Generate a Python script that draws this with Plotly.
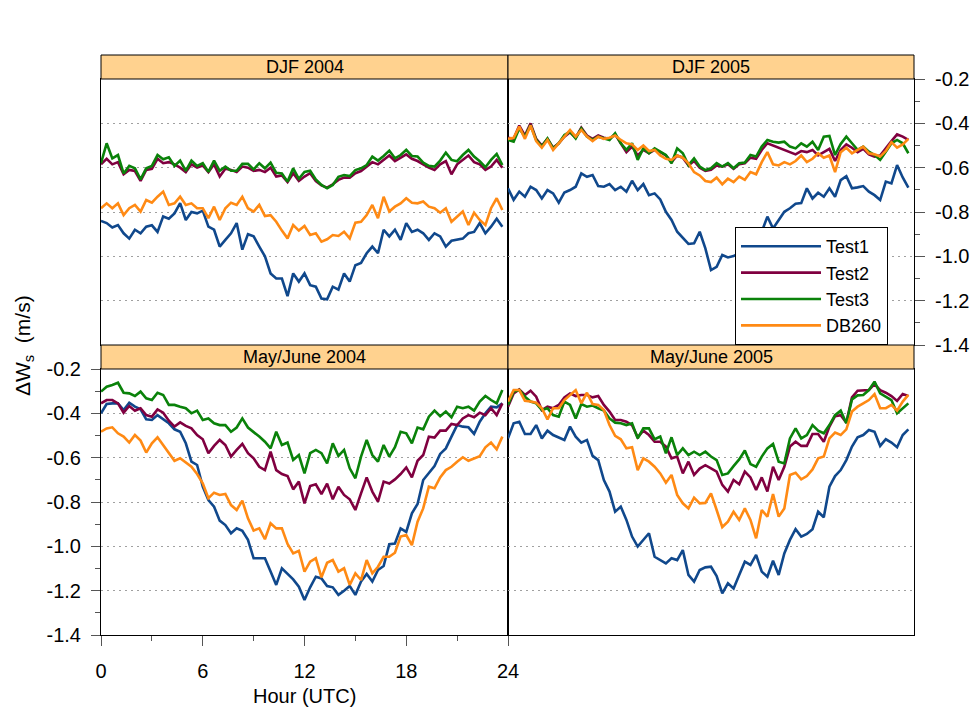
import plotly.graph_objects as go

# ---------------------------------------------------------------- data
# 20-minute time grid over the day (hours UTC)
MINUTES = list(range(0, 1440, 20))
HOURS = [m / 60 for m in MINUTES]

SERIES_NAMES = ["Test1", "Test2", "Test3", "DB260"]
SERIES_COLORS = ["#10488C", "#800040", "#0A820A", "#FF8A14"]
PANEL_TITLES = ["DJF 2004", "DJF 2005", "May/June 2004", "May/June 2005"]

X_TICKS = [0, 6, 12, 18, 24]
X_MINOR = [3, 9, 15, 21]
Y_TICKS = [-1.4, -1.2, -1.0, -0.8, -0.6, -0.4, -0.2]
Y_MINOR = [-1.3, -1.1, -0.9, -0.7, -0.5, -0.3]

# DJF 2004
DJF04_TEST1 = [-0.840, -0.850, -0.870, -0.859, -0.896, -0.920, -0.880, -0.896, -0.866, -0.860,
               -0.890, -0.820, -0.830, -0.806, -0.760, -0.836, -0.800, -0.806, -0.794, -0.866,
               -0.880, -0.956, -0.926, -0.896, -0.850, -0.970, -0.900, -0.910, -0.956, -1.000,
               -1.077, -1.100, -1.100, -1.180, -1.077, -1.114, -1.077, -1.130, -1.137, -1.190,
               -1.194, -1.137, -1.150, -1.077, -1.114, -1.040, -1.030, -0.986, -0.956, -0.986,
               -0.880, -0.910, -0.880, -0.926, -0.850, -0.890, -0.880, -0.896, -0.926, -0.896,
               -0.910, -0.956, -0.930, -0.926, -0.920, -0.896, -0.890, -0.850, -0.896, -0.866,
               -0.830, -0.866]
DJF04_TEST2 = [-0.585, -0.560, -0.585, -0.575, -0.630, -0.610, -0.615, -0.660, -0.610, -0.605,
               -0.560, -0.580, -0.575, -0.585, -0.600, -0.620, -0.585, -0.600, -0.590, -0.620,
               -0.585, -0.640, -0.605, -0.610, -0.620, -0.595, -0.600, -0.615, -0.610, -0.620,
               -0.600, -0.640, -0.635, -0.665, -0.625, -0.660, -0.640, -0.625, -0.660, -0.680,
               -0.690, -0.675, -0.655, -0.645, -0.645, -0.625, -0.615, -0.595, -0.575, -0.585,
               -0.565, -0.545, -0.570, -0.555, -0.540, -0.560, -0.570, -0.585, -0.600, -0.610,
               -0.585, -0.570, -0.630, -0.585, -0.565, -0.545, -0.575, -0.585, -0.610, -0.595,
               -0.565, -0.600]
DJF04_TEST3 = [-0.580, -0.490, -0.558, -0.543, -0.626, -0.592, -0.603, -0.653, -0.603, -0.592,
               -0.543, -0.562, -0.553, -0.592, -0.568, -0.614, -0.568, -0.592, -0.580, -0.619,
               -0.568, -0.614, -0.595, -0.614, -0.614, -0.583, -0.583, -0.608, -0.580, -0.603,
               -0.577, -0.623, -0.626, -0.663, -0.603, -0.650, -0.619, -0.614, -0.653, -0.678,
               -0.693, -0.678, -0.641, -0.633, -0.638, -0.611, -0.603, -0.588, -0.550, -0.568,
               -0.547, -0.523, -0.558, -0.543, -0.520, -0.547, -0.550, -0.577, -0.592, -0.595,
               -0.568, -0.532, -0.565, -0.571, -0.543, -0.520, -0.550, -0.571, -0.598, -0.565,
               -0.538, -0.588]
DJF04_DB260 = [-0.783, -0.761, -0.783, -0.761, -0.814, -0.783, -0.768, -0.798, -0.746, -0.758,
               -0.731, -0.708, -0.768, -0.761, -0.731, -0.768, -0.761, -0.783, -0.783, -0.828,
               -0.776, -0.836, -0.783, -0.758, -0.768, -0.731, -0.783, -0.798, -0.768, -0.818,
               -0.814, -0.844, -0.884, -0.919, -0.859, -0.884, -0.863, -0.904, -0.896, -0.934,
               -0.923, -0.904, -0.908, -0.889, -0.919, -0.848, -0.844, -0.814, -0.768, -0.828,
               -0.731, -0.798, -0.776, -0.761, -0.738, -0.758, -0.761, -0.753, -0.776, -0.783,
               -0.803, -0.783, -0.844, -0.821, -0.798, -0.859, -0.803, -0.836, -0.859, -0.783,
               -0.738, -0.791]

# DJF 2005
DJF05_TEST1 = [-0.693, -0.745, -0.708, -0.731, -0.686, -0.701, -0.739, -0.701, -0.716, -0.758,
               -0.712, -0.701, -0.686, -0.626, -0.641, -0.633, -0.683, -0.686, -0.674, -0.701,
               -0.686, -0.708, -0.659, -0.701, -0.674, -0.724, -0.716, -0.743, -0.799, -0.836,
               -0.889, -0.919, -0.944, -0.941, -0.889, -0.964, -1.062, -1.047, -0.994, -1.005,
               -0.999, -0.986, -0.911, -0.971, -0.919, -0.889, -0.821, -0.874, -0.836, -0.799,
               -0.783, -0.763, -0.760, -0.693, -0.739, -0.713, -0.731, -0.693, -0.731, -0.656,
               -0.638, -0.693, -0.689, -0.683, -0.708, -0.724, -0.746, -0.663, -0.671, -0.588,
               -0.644, -0.690]
DJF05_TEST2 = [-0.465, -0.470, -0.410, -0.455, -0.400, -0.470, -0.500, -0.470, -0.510, -0.490,
               -0.460, -0.440, -0.465, -0.420, -0.455, -0.470, -0.455, -0.465, -0.470, -0.450,
               -0.490, -0.530, -0.505, -0.545, -0.520, -0.535, -0.520, -0.530, -0.545, -0.575,
               -0.545, -0.555, -0.590, -0.570, -0.600, -0.615, -0.610, -0.590, -0.595, -0.585,
               -0.605, -0.585, -0.580, -0.555, -0.560, -0.520, -0.490, -0.500, -0.510, -0.520,
               -0.530, -0.540, -0.525, -0.530, -0.520, -0.545, -0.530, -0.515, -0.570, -0.520,
               -0.495, -0.510, -0.530, -0.515, -0.540, -0.550, -0.545, -0.510, -0.480, -0.450,
               -0.460, -0.475]
DJF05_TEST3 = [-0.475, -0.483, -0.423, -0.460, -0.408, -0.475, -0.505, -0.468, -0.513, -0.490,
               -0.453, -0.438, -0.468, -0.423, -0.460, -0.475, -0.460, -0.468, -0.475, -0.445,
               -0.490, -0.520, -0.490, -0.565, -0.513, -0.535, -0.513, -0.528, -0.543, -0.580,
               -0.513, -0.535, -0.588, -0.558, -0.595, -0.611, -0.603, -0.580, -0.595, -0.580,
               -0.603, -0.580, -0.577, -0.543, -0.550, -0.505, -0.475, -0.483, -0.487, -0.483,
               -0.505, -0.513, -0.490, -0.505, -0.483, -0.520, -0.460, -0.457, -0.543, -0.493,
               -0.460, -0.490, -0.520, -0.505, -0.528, -0.543, -0.565, -0.528, -0.490, -0.475,
               -0.490, -0.535]
DJF05_DB260 = [-0.470, -0.465, -0.415, -0.470, -0.410, -0.480, -0.510, -0.475, -0.520, -0.490,
               -0.455, -0.430, -0.460, -0.430, -0.460, -0.480, -0.460, -0.470, -0.465, -0.455,
               -0.475, -0.490, -0.495, -0.520, -0.500, -0.525, -0.520, -0.545, -0.560, -0.565,
               -0.545, -0.555, -0.580, -0.620, -0.635, -0.660, -0.665, -0.645, -0.675, -0.650,
               -0.665, -0.640, -0.655, -0.620, -0.630, -0.575, -0.530, -0.585, -0.590, -0.575,
               -0.585, -0.570, -0.545, -0.575, -0.560, -0.535, -0.555, -0.545, -0.620, -0.530,
               -0.510, -0.535, -0.520, -0.505, -0.535, -0.540, -0.550, -0.525, -0.485, -0.510,
               -0.495, -0.470]

# May/June 2004
MJ04_TEST1 = [-0.400, -0.358, -0.355, -0.355, -0.385, -0.352, -0.370, -0.382, -0.427, -0.430,
              -0.408, -0.427, -0.445, -0.472, -0.483, -0.535, -0.618, -0.633, -0.731, -0.791,
              -0.821, -0.884, -0.904, -0.941, -0.919, -0.930, -0.971, -1.054, -1.054, -1.054,
              -1.114, -1.174, -1.099, -1.122, -1.149, -1.182, -1.242, -1.185, -1.137, -1.145,
              -1.179, -1.185, -1.219, -1.200, -1.179, -1.219, -1.159, -1.125, -1.159, -1.107,
              -1.089, -0.990, -0.987, -0.919, -0.935, -0.851, -0.809, -0.701, -0.668, -0.638,
              -0.583, -0.558, -0.505, -0.453, -0.460, -0.463, -0.493, -0.438, -0.400, -0.370,
              -0.373, -0.355]
MJ04_TEST2 = [-0.355, -0.340, -0.340, -0.355, -0.397, -0.367, -0.388, -0.377, -0.408, -0.415,
              -0.382, -0.397, -0.433, -0.460, -0.441, -0.457, -0.468, -0.498, -0.517, -0.580,
              -0.547, -0.520, -0.543, -0.595, -0.565, -0.538, -0.580, -0.603, -0.641, -0.656,
              -0.573, -0.656, -0.674, -0.683, -0.743, -0.708, -0.806, -0.728, -0.720, -0.764,
              -0.717, -0.788, -0.731, -0.768, -0.788, -0.836, -0.761, -0.689, -0.753, -0.798,
              -0.708, -0.717, -0.698, -0.674, -0.644, -0.689, -0.614, -0.588, -0.505, -0.509,
              -0.478, -0.478, -0.448, -0.453, -0.423, -0.408, -0.418, -0.397, -0.408, -0.377,
              -0.408, -0.355]
MJ04_TEST3 = [-0.302, -0.280, -0.272, -0.262, -0.307, -0.310, -0.322, -0.302, -0.332, -0.340,
              -0.307, -0.317, -0.362, -0.362, -0.370, -0.377, -0.400, -0.388, -0.430, -0.423,
              -0.445, -0.453, -0.453, -0.483, -0.464, -0.423, -0.464, -0.483, -0.505, -0.528,
              -0.558, -0.483, -0.543, -0.532, -0.610, -0.588, -0.671, -0.580, -0.565, -0.580,
              -0.626, -0.535, -0.592, -0.565, -0.648, -0.693, -0.595, -0.520, -0.588, -0.618,
              -0.543, -0.595, -0.553, -0.483, -0.490, -0.535, -0.464, -0.472, -0.415, -0.388,
              -0.413, -0.392, -0.418, -0.370, -0.377, -0.370, -0.388, -0.347, -0.322, -0.340,
              -0.355, -0.295]
MJ04_DB260 = [-0.483, -0.468, -0.463, -0.490, -0.505, -0.532, -0.498, -0.523, -0.577, -0.535,
              -0.508, -0.543, -0.580, -0.614, -0.603, -0.623, -0.641, -0.674, -0.716, -0.783,
              -0.758, -0.768, -0.764, -0.814, -0.836, -0.794, -0.874, -0.929, -0.919, -0.968,
              -0.896, -0.919, -0.919, -0.989, -1.032, -1.020, -1.114, -1.069, -1.054, -1.140,
              -1.074, -1.062, -1.114, -1.099, -1.174, -1.122, -1.152, -1.062, -1.122, -1.092,
              -1.047, -1.047, -1.029, -0.956, -0.949, -0.995, -0.889, -0.829, -0.731, -0.738,
              -0.689, -0.656, -0.641, -0.618, -0.598, -0.614, -0.603, -0.593, -0.553, -0.532,
              -0.562, -0.505]

# May/June 2005
MJ05_TEST1 = [-0.513, -0.445, -0.438, -0.493, -0.493, -0.453, -0.513, -0.478, -0.498, -0.508,
              -0.520, -0.460, -0.505, -0.532, -0.520, -0.592, -0.611, -0.701, -0.753, -0.844,
              -0.821, -0.881, -0.956, -1.001, -0.971, -0.941, -1.047, -1.062, -1.077, -1.054,
              -1.062, -1.017, -1.129, -1.159, -1.107, -1.095, -1.092, -1.134, -1.212, -1.167,
              -1.190, -1.129, -1.069, -1.084, -1.039, -1.114, -1.137, -1.065, -1.129, -1.032,
              -0.971, -0.923, -0.956, -0.944, -0.923, -0.844, -0.869, -0.731, -0.683, -0.656,
              -0.611, -0.550, -0.508, -0.498, -0.475, -0.483, -0.547, -0.517, -0.532, -0.553,
              -0.498, -0.472]
MJ05_TEST2 = [-0.370, -0.310, -0.292, -0.317, -0.298, -0.325, -0.385, -0.370, -0.377, -0.362,
              -0.328, -0.310, -0.322, -0.317, -0.317, -0.328, -0.322, -0.362, -0.392, -0.430,
              -0.430, -0.438, -0.453, -0.508, -0.478, -0.498, -0.528, -0.528, -0.550, -0.603,
              -0.595, -0.671, -0.618, -0.678, -0.649, -0.634, -0.648, -0.663, -0.723, -0.753,
              -0.701, -0.720, -0.663, -0.689, -0.746, -0.689, -0.753, -0.641, -0.701, -0.641,
              -0.550, -0.528, -0.547, -0.547, -0.493, -0.493, -0.528, -0.460, -0.413, -0.408,
              -0.442, -0.328, -0.298, -0.298, -0.295, -0.268, -0.295, -0.307, -0.322, -0.344,
              -0.313, -0.322]
MJ05_TEST3 = [-0.362, -0.302, -0.295, -0.325, -0.347, -0.355, -0.385, -0.377, -0.408, -0.415,
              -0.347, -0.362, -0.423, -0.358, -0.370, -0.365, -0.377, -0.388, -0.423, -0.442,
              -0.445, -0.453, -0.445, -0.513, -0.468, -0.468, -0.517, -0.505, -0.580, -0.508,
              -0.588, -0.558, -0.588, -0.573, -0.588, -0.573, -0.595, -0.611, -0.678, -0.671,
              -0.638, -0.608, -0.568, -0.629, -0.641, -0.595, -0.558, -0.538, -0.618, -0.626,
              -0.513, -0.468, -0.513, -0.498, -0.453, -0.478, -0.490, -0.453, -0.408, -0.388,
              -0.445, -0.337, -0.319, -0.317, -0.295, -0.257, -0.310, -0.325, -0.340, -0.400,
              -0.377, -0.355]
MJ05_DB260 = [-0.347, -0.295, -0.295, -0.343, -0.347, -0.352, -0.377, -0.427, -0.377, -0.377,
              -0.340, -0.317, -0.295, -0.355, -0.307, -0.358, -0.362, -0.385, -0.453, -0.502,
              -0.517, -0.558, -0.553, -0.656, -0.603, -0.618, -0.641, -0.671, -0.713, -0.678,
              -0.768, -0.806, -0.829, -0.780, -0.806, -0.804, -0.761, -0.836, -0.913, -0.889,
              -0.844, -0.881, -0.829, -0.881, -0.964, -0.836, -0.866, -0.764, -0.866, -0.829,
              -0.678, -0.668, -0.698, -0.683, -0.653, -0.603, -0.595, -0.513, -0.487, -0.498,
              -0.472, -0.392, -0.370, -0.355, -0.340, -0.313, -0.377, -0.377, -0.362, -0.388,
              -0.347, -0.317]

PANEL_DATA = [
    [DJF04_TEST1, DJF04_TEST2, DJF04_TEST3, DJF04_DB260],
    [DJF05_TEST1, DJF05_TEST2, DJF05_TEST3, DJF05_DB260],
    [MJ04_TEST1, MJ04_TEST2, MJ04_TEST3, MJ04_DB260],
    [MJ05_TEST1, MJ05_TEST2, MJ05_TEST3, MJ05_DB260],
]

# ---------------------------------------------------------------- layout geometry (pixels)
W, H = 971, 708
COL_X = [(101, 508), (508, 914)]
ROW_Y = [(79, 345), (369, 635)]   # plot areas, top row then bottom row
STRIP_H = 24
FONT = "Liberation Sans, Arial, sans-serif"
STRIP_FILL = "#FFD28F"
TICK_COLOR = "#555555"
GRID_COLOR = "#A0A0A0"


def px_x(x):
    return x / W


def px_y(y):
    return 1 - y / H


fig = go.Figure()

# panel index -> (row, col); axis suffixes "", "2", "3", "4"
PANELS = [(0, 0), (0, 1), (1, 0), (1, 1)]
SUFFIX = ["", "2", "3", "4"]

for p, (row, col) in enumerate(PANELS):
    for s, name in enumerate(SERIES_NAMES):
        fig.add_trace(go.Scatter(
            x=HOURS, y=PANEL_DATA[p][s], mode="lines", name=name,
            line=dict(color=SERIES_COLORS[s], width=2.6),
            xaxis="x" + SUFFIX[p], yaxis="y" + SUFFIX[p],
            legendgroup=name, showlegend=(p == 0),
        ))

y_labels = [f"{v:.1f}" for v in Y_TICKS]
x_labels = [str(v) for v in X_TICKS]
tick_font = dict(family=FONT, size=20, color="black")

for p, (row, col) in enumerate(PANELS):
    x0, x1 = COL_X[col]
    y0, y1 = ROW_Y[row]
    xa = dict(domain=[px_x(x0), px_x(x1)], range=[0, 24], anchor="y" + SUFFIX[p],
              showline=True, mirror=True, linecolor="black", linewidth=1,
              showgrid=False, zeroline=False, tickvals=X_TICKS, ticktext=x_labels,
              ticks="", showticklabels=False, fixedrange=True)
    ya = dict(domain=[px_y(y1), px_y(y0)], range=[-1.4, -0.2], anchor="x" + SUFFIX[p],
              showline=True, mirror=True, linecolor="black", linewidth=1,
              showgrid=True, gridcolor=GRID_COLOR, gridwidth=1, griddash="2px,4px",
              zeroline=False, tickvals=Y_TICKS, ticktext=y_labels,
              ticks="", showticklabels=False, fixedrange=True)
    if p == 2:   # bottom-left: hour axis below, value axis on the left
        xa.update(ticks="outside", ticklen=10, tickcolor=TICK_COLOR, showticklabels=True,
                  ticklabelstandoff=8, tickfont=tick_font,
                  minor=dict(tickvals=X_MINOR, ticks="outside", ticklen=5, tickcolor=TICK_COLOR))
        ya.update(side="left", ticks="outside", ticklen=9, tickcolor=TICK_COLOR,
                  showticklabels=True, ticklabelstandoff=6, tickfont=tick_font,
                  minor=dict(tickvals=Y_MINOR, ticks="outside", ticklen=5, tickcolor=TICK_COLOR))
    if p == 1:   # top-right: value axis on the right
        ya.update(side="right", ticks="outside", ticklen=10, tickcolor=TICK_COLOR,
                  showticklabels=True, ticklabelstandoff=6, tickfont=tick_font,
                  minor=dict(tickvals=Y_MINOR, ticks="outside", ticklen=5, tickcolor=TICK_COLOR))
    fig.layout["xaxis" + SUFFIX[p]] = xa
    fig.layout["yaxis" + SUFFIX[p]] = ya

# hour axis above the strip of the top-right panel
fig.layout["xaxis5"] = dict(
    domain=[px_x(COL_X[1][0]), px_x(COL_X[1][1])], range=[0, 24],
    overlaying="x2", anchor="free", position=px_y(ROW_Y[0][0] - STRIP_H), side="top",
    showline=False, showgrid=False, zeroline=False,
    tickvals=X_TICKS, ticktext=x_labels, ticks="outside", ticklen=9,
    tickcolor=TICK_COLOR, ticklabelstandoff=13, tickfont=tick_font,
    minor=dict(tickvals=X_MINOR, ticks="outside", ticklen=5, tickcolor=TICK_COLOR),
    fixedrange=True,
)

# strips with panel titles
shapes = []
annotations = []
for p, (row, col) in enumerate(PANELS):
    x0, x1 = COL_X[col]
    top = ROW_Y[row][0]
    shapes.append(dict(type="rect", xref="paper", yref="paper",
                       x0=px_x(x0), x1=px_x(x1), y0=px_y(top), y1=px_y(top - STRIP_H),
                       fillcolor=STRIP_FILL, line=dict(color="black", width=1), layer="above"))
    annotations.append(dict(text=PANEL_TITLES[p], xref="paper", yref="paper",
                            x=px_x((x0 + x1) / 2), y=px_y(top - STRIP_H / 2),
                            xanchor="center", yanchor="middle", showarrow=False,
                            font=dict(family=FONT, size=18, color="black")))

annotations.append(dict(text="Hour (UTC)", xref="paper", yref="paper",
                        x=px_x((COL_X[0][0] + COL_X[0][1]) / 2), y=px_y(696),
                        xanchor="center", yanchor="middle", showarrow=False,
                        font=dict(family=FONT, size=20, color="black")))
annotations.append(dict(text="\u0394W<sub>s</sub>  (m/s)", xref="paper", yref="paper",
                        x=px_x(24), y=px_y(346), textangle=-90,
                        xanchor="center", yanchor="middle", showarrow=False,
                        font=dict(family=FONT, size=21, color="black")))

fig.update_layout(
    width=W, height=H, margin=dict(l=0, r=0, t=0, b=0, autoexpand=False),
    paper_bgcolor="white", plot_bgcolor="white",
    shapes=shapes, annotations=annotations,
    legend=dict(x=px_x(735), y=px_y(227), xanchor="left", yanchor="top",
                bgcolor="white", bordercolor="black", borderwidth=1,
                font=dict(family=FONT, size=18, color="black"),
                itemwidth=80, tracegroupgap=0, traceorder="normal"),
    font=dict(family=FONT),
)

fig.write_html("out.html")
